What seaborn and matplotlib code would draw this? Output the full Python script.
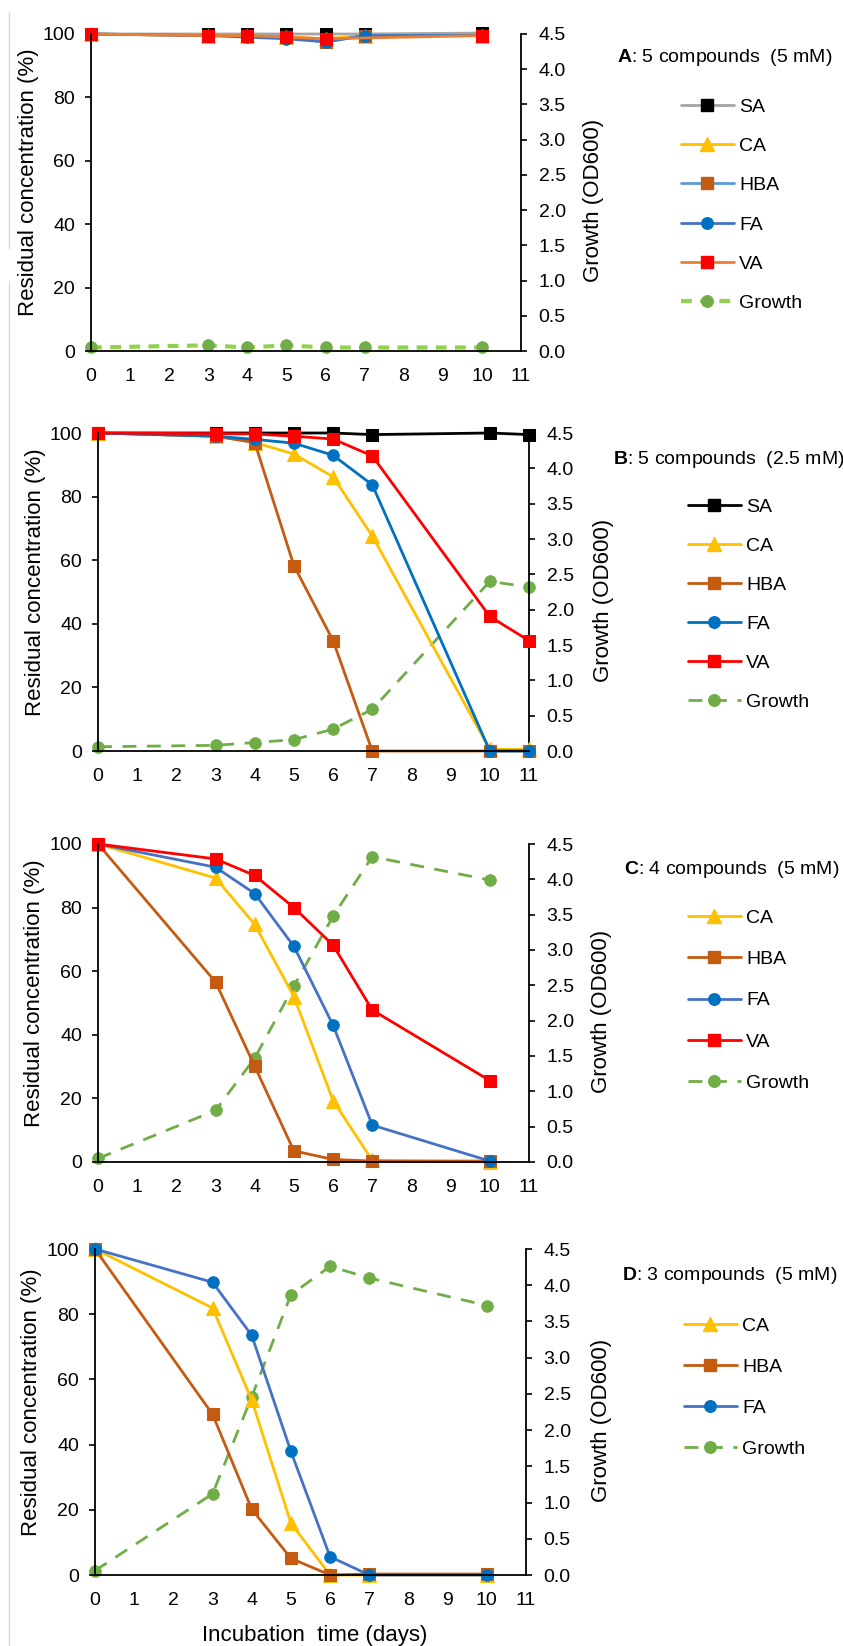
import matplotlib
matplotlib.use("Agg")
import matplotlib.pyplot as plt
import seaborn as sns
import numpy as np
from matplotlib.lines import Line2D
from matplotlib.ticker import FormatStrFormatter

sns.set_theme(style="white")
plt.rcParams["font.family"] = ["Liberation Sans", "DejaVu Sans"]
plt.rcParams["mathtext.fontset"] = "custom"
plt.rcParams["mathtext.rm"] = "Liberation Sans"
plt.rcParams["mathtext.bf"] = "Liberation Sans:bold"

# ---------------- data ----------------
days = [0, 3, 4, 5, 6, 7, 10]
days_b = [0, 3, 4, 5, 6, 7, 10, 11]

A_SA = [100, 100, 100, 100, 100, 100, 100.3]
A_CA = [100, 99.5, 99.5, 99, 98.5, 99.5, 99.5]
A_HBA = [100, 99.5, 99.5, 99, 97.5, 99.5, 99.5]
A_FA = [100, 99.5, 99, 98.5, 97.5, 99.5, 99.5]
A_VA = [100, 99.5, 99.5, 99, 98.5, np.nan, 99.5]
A_growth = [0.05, 0.08, 0.05, 0.08, 0.05, 0.05, 0.05]

B_SA = [100, 100, 100, 100, 100, 99.5, 100, 99.5]
B_CA = [100, 99, 97, 93.4, 86.2, 67.6, 0.5, 0.5]
B_HBA = [100, 99, 97, 58.3, 34.7, 0, 0, 0]
B_FA = [100, 99, 98, 96.8, 93, 83.7, 0, 0]
B_VA = [100, 99.8, 99.7, 99, 98.1, 92.8, 42.3, 34.7]
B_growth = [0.06, 0.08, 0.12, 0.16, 0.31, 0.59, 2.40, 2.32]

C_CA = [100, 89.3, 74.7, 52, 19.3, 0.5, 0]
C_HBA = [100, 56.6, 30.1, 3.5, 0.8, 0.3, 0.3]
C_FA = [100, 92.7, 84.4, 67.8, 43, 11.6, 0.3]
C_VA = [100, 95.3, 90.1, 80, 68.2, 47.8, 25.6]
C_growth = [0.05, 0.73, 1.47, 2.49, 3.48, 4.32, 3.99]

D_CA = [100, 81.9, 53.7, 15.9, 0, 0, 0]
D_HBA = [100, 49.3, 20.2, 5.1, 0, 0.3, 0.3]
D_FA = [100, 89.8, 73.5, 37.9, 5.6, 0, 0]
D_growth = [0.06, 1.12, 2.46, 3.87, 4.26, 4.10, 3.72]

titles = ["A: 5 compounds  (5 mM)", "B: 5 compounds  (2.5 mM)",
          "C: 4 compounds  (5 mM)", "D: 3 compounds  (5 mM)"]
left_ticks = [0, 20, 40, 60, 80, 100]
right_ticks = [0.0, 0.5, 1.0, 1.5, 2.0, 2.5, 3.0, 3.5, 4.0, 4.5]
x_ticks = list(range(0, 12))

# ---------------- styles ----------------
MARK = {"SA": ("s", "#000000"), "CA": ("^", "#FFC000"), "HBA": ("s", "#C55A11"),
        "FA": ("o", "#0070C0"), "VA": ("s", "#FF0000"), "Growth": ("o", "#70AD47")}
LINE_A = {"SA": "#A5A5A5", "CA": "#FFC000", "HBA": "#5B9BD5", "FA": "#4472C4",
          "VA": "#ED7D31", "Growth": "#92D050"}
LINE_B = {"SA": "#000000", "CA": "#FFC000", "HBA": "#C55A11", "FA": "#0070C0",
          "VA": "#FF0000", "Growth": "#70AD47"}
LINE_CD = {"SA": "#000000", "CA": "#FFC000", "HBA": "#C55A11", "FA": "#4472C4",
           "VA": "#FF0000", "Growth": "#70AD47"}
MS = {"s": 9.0, "^": 9.5, "o": 8.3}
LW = 2.0

# layout per panel (pixels): axes box, ylabel centres, legend title/entries
panels = [
    dict(x=days, series=[("SA", A_SA), ("CA", A_CA), ("HBA", A_HBA), ("FA", A_FA), ("VA", A_VA)],
         growth=A_growth, lines=LINE_A, box=(91, 521, 34, 351), ylab=(29, 593),
         title=(617, 58), leg=(681, 107, 39.4), glw=3.0, dash=(2.6, 2.0)),
    dict(x=days_b, series=[("SA", B_SA), ("CA", B_CA), ("HBA", B_HBA), ("FA", B_FA), ("VA", B_VA)],
         growth=B_growth, lines=LINE_B, box=(98, 529, 433, 751), ylab=(36, 603),
         title=(613, 460), leg=(688, 507, 39.2), glw=LW, dash=(5.0, 3.8)),
    dict(x=days, series=[("CA", C_CA), ("HBA", C_HBA), ("FA", C_FA), ("VA", C_VA)],
         growth=C_growth, lines=LINE_CD, box=(98, 529, 844, 1162), ylab=(35, 602),
         title=(624, 869), leg=(688, 918, 41.5), glw=LW, dash=(5.0, 3.8)),
    dict(x=days, series=[("CA", D_CA), ("HBA", D_HBA), ("FA", D_FA)],
         growth=D_growth, lines=LINE_CD, box=(95, 526, 1249, 1575), ylab=(32, 602),
         title=(622, 1275), leg=(684, 1326, 41.3), glw=LW, dash=(5.0, 3.8)),
]

W, H = 843, 1646
fig = plt.figure(figsize=(W / 100, H / 100), dpi=100)
FS = 14
FSL = 16
PX = 72 / 100  # points per pixel

for i, p in enumerate(panels):
    L, R, top, bot = p["box"]
    ax = fig.add_axes([L / W, 1 - bot / H, (R - L) / W, (bot - top) / H])
    ax2 = ax.twinx()
    ax.set_zorder(ax2.get_zorder() + 1)
    ax.patch.set_visible(False)

    # growth on right axis
    m, mc = MARK["Growth"]
    sns.lineplot(x=p["x"], y=p["growth"], ax=ax2, color=p["lines"]["Growth"], marker=m,
                 markerfacecolor=mc, markeredgecolor=mc, markersize=MS[m],
                 linewidth=p["glw"], errorbar=None, sort=False, clip_on=False)
    ax2.lines[-1].set_dashes(p["dash"])

    for name, vals in p["series"]:
        m, mc = MARK[name]
        sns.lineplot(x=p["x"], y=vals, ax=ax, color=p["lines"][name], marker=m,
                     markerfacecolor=mc, markeredgecolor=mc, markersize=MS[m],
                     linewidth=LW, errorbar=None, sort=False, clip_on=False)

    ax.set_xlim(0, 11)
    ax.set_ylim(0, 100)
    ax2.set_ylim(0, 4.5)
    ax.set_xticks(x_ticks)
    ax.set_yticks(left_ticks)
    ax2.set_yticks(right_ticks)
    ax2.yaxis.set_major_formatter(FormatStrFormatter("%.1f"))
    ax.set_xlabel("")
    ax.set_ylabel("")
    ax2.set_ylabel("")
    for a in (ax, ax2):
        for s in a.spines.values():
            s.set_color("black")
            s.set_linewidth(1.3)
        a.spines["top"].set_visible(False)
        a.tick_params(direction="out", length=4.6, width=1.2, labelsize=FS,
                      colors="black")
        a.grid(False)
    ax.tick_params(axis="x", pad=7.5)
    ax.tick_params(axis="y", pad=7.0)
    ax2.tick_params(axis="y", pad=8.0)
    ax.spines["right"].set_visible(False)
    ax2.spines["left"].set_visible(False)
    ax2.spines["bottom"].set_visible(False)

    mid = (top + bot) / 2
    fig.text(p["ylab"][0] / W, 1 - (mid - 10) / H, "Residual concentration (%)",
             rotation=90, ha="center", va="center", fontsize=FSL, color="black")
    fig.text(p["ylab"][1] / W, 1 - (mid + 8) / H, "Growth (OD600)",
             rotation=90, ha="center", va="center", fontsize=FSL, color="black")
    if i == 3:
        fig.text(((L + R) / 2 + 4) / W, 1 - 1635 / H, "Incubation  time (days)",
                 ha="center", va="center", fontsize=FSL, color="black")

    # legend title
    letter, rest = titles[i].split(":", 1)
    fig.text(p["title"][0] / W, 1 - p["title"][1] / H, r"$\mathbf{" + letter + "}$:" + rest,
             fontsize=FS, va="center", ha="left", color="black")
    # legend
    handles, labels = [], []
    for name, _ in p["series"] + [("Growth", None)]:
        m, mc = MARK[name]
        h = Line2D([], [], color=p["lines"][name], marker=m, markerfacecolor=mc,
                   markeredgecolor=mc, markersize=MS[m],
                   linewidth=(p["glw"] if name == "Growth" else LW))
        if name == "Growth":
            h.set_dashes(p["dash"])
        handles.append(h)
        labels.append(name)
    hx, hy, pitch = p["leg"]
    spacing = (pitch - 17.7) / (FS / PX)
    fig.legend(handles, labels, loc="upper left",
               bbox_to_anchor=(hx / W, 1 - (hy - 9) / H), frameon=False,
               fontsize=FS, borderpad=0, borderaxespad=0, handlelength=2.7,
               handletextpad=0.3, labelspacing=spacing, labelcolor="black")

# faint screenshot border lines on the left
fig.add_artist(Line2D([9 / W, 9 / W], [1 - 12 / H, 1 - 248 / H], color="#d9d9d9",
                      lw=1, transform=fig.transFigure))
fig.add_artist(Line2D([9 / W, 9 / W], [1 - 281 / H, 0], color="#d9d9d9",
                      lw=1, transform=fig.transFigure))

fig.savefig("out.png", dpi=100)
